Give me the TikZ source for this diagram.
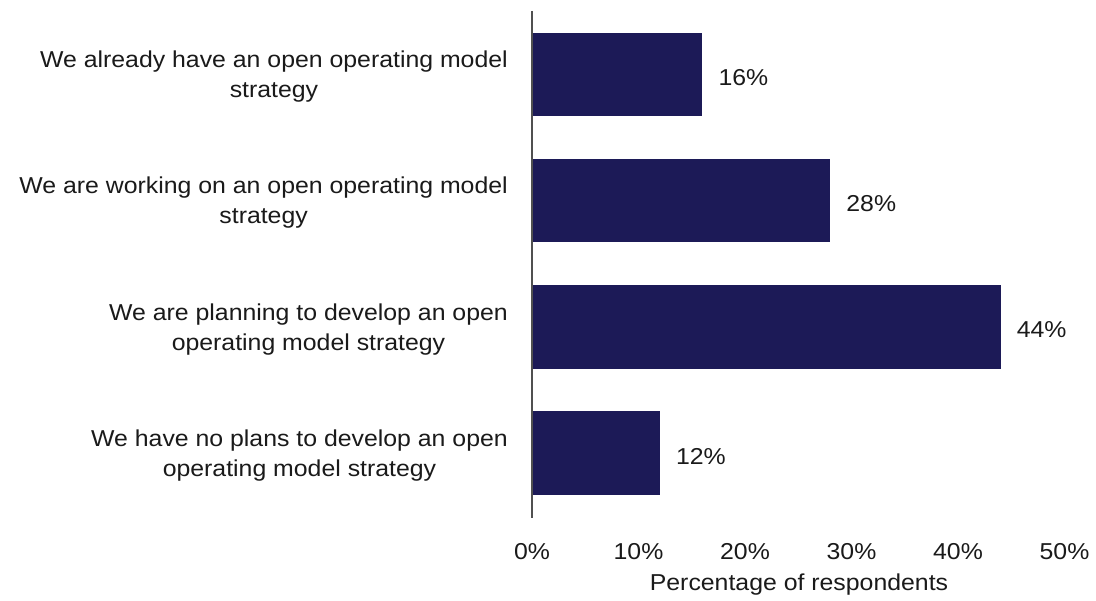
\documentclass[tikz,border=0pt]{standalone}
\usepackage{fontspec}
\setmainfont{Liberation Sans}[FakeStretch=1.08]
\definecolor{barblue}{HTML}{1C1A57}
\definecolor{txt}{HTML}{1A1A1A}
\definecolor{axisgray}{HTML}{505050}
\begin{document}
\begin{tikzpicture}[x=1pt,y=-1pt,
  bar/.style={fill=barblue,draw=none},
  cat/.style={anchor=east,align=center,text=txt,font=\fontsize{23}{30}\selectfont,inner sep=0pt},
  val/.style={anchor=west,text=txt,font=\fontsize{23}{25}\selectfont,inner sep=0pt},
  tick/.style={anchor=center,text=txt,font=\fontsize{23}{25}\selectfont,inner sep=0pt}]
\useasboundingbox (0,0) rectangle (1096,601);
\fill[white] (0,0) rectangle (1096,601);
% bars
\def\sc{10.65}
\path[bar] (532,33) rectangle ({532+16*\sc},116) coordinate (b1);
\path[bar] (532,159) rectangle ({532+28*\sc},242) coordinate (b2);
\path[bar] (532,285) rectangle ({532+44*\sc},369) coordinate (b3);
\path[bar] (532,411) rectangle ({532+12*\sc},495) coordinate (b4);
% axis
\coordinate (atop) at (532,11);
\coordinate (abot) at (532,518);
\draw[axisgray,line width=1.3pt] (atop) -- (abot);
% category labels
\node[cat] (c1) at (508,77) {We already have an open operating model\\strategy};
\node[cat] (c2) at (508,203) {We are working on an open operating model\\strategy};
\node[cat] (c3) at (508,330) {We are planning to develop an open\\operating model strategy};
\node[cat] (c4) at (508,456) {We have no plans to develop an open\\operating model strategy};
% value labels
\node[val] (v1) at ({532+16*\sc+16},78) {16\%};
\node[val] (v2) at ({532+28*\sc+16},204) {28\%};
\node[val] (v3) at ({532+44*\sc+16},330) {44\%};
\node[val] (v4) at ({532+12*\sc+16},457) {12\%};
% ticks
\foreach \v in {0,10,20,30,40,50} {
  \node[tick] (t\v) at ({532+\v*\sc},552) {\v\%};
}
\node[tick] (xt) at (799,585) {Percentage of respondents};
\end{tikzpicture}
\end{document}
